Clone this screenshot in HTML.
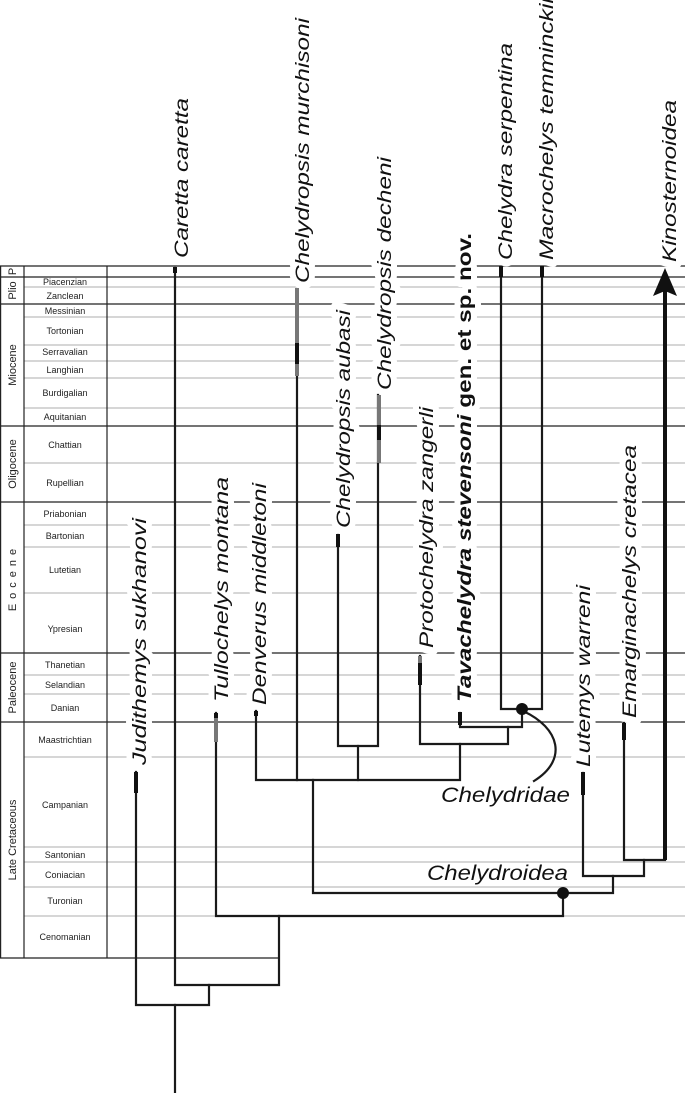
<!DOCTYPE html>
<html><head><meta charset="utf-8"><style>
html,body{margin:0;padding:0;background:#fff}
svg{display:block}
.st{font-family:"Liberation Sans",sans-serif;font-size:9px;fill:#222;text-anchor:middle}
.ep{font-family:"Liberation Sans",sans-serif;font-size:11px;fill:#222;text-anchor:middle}
.lb{font-family:"Liberation Sans",sans-serif;font-size:19px;font-style:italic;fill:#111;stroke:#fff;stroke-width:12px;paint-order:stroke;stroke-linejoin:round}
.cl{font-family:"Liberation Sans",sans-serif;font-size:21px;font-style:italic;fill:#111}
</style></head><body>
<svg width="685" height="1093" viewBox="0 0 685 1093" xmlns="http://www.w3.org/2000/svg">
<!-- gray stage lines -->
<g stroke="#c8c8c8" stroke-width="1.5">
<line x1="24" y1="287" x2="685" y2="287"/>
<line x1="24" y1="317" x2="685" y2="317"/>
<line x1="24" y1="345" x2="685" y2="345"/>
<line x1="24" y1="361" x2="685" y2="361"/>
<line x1="24" y1="378" x2="685" y2="378"/>
<line x1="24" y1="408" x2="685" y2="408"/>
<line x1="24" y1="463" x2="685" y2="463"/>
<line x1="24" y1="525" x2="685" y2="525"/>
<line x1="24" y1="547" x2="685" y2="547"/>
<line x1="24" y1="593" x2="685" y2="593"/>
<line x1="24" y1="675" x2="685" y2="675"/>
<line x1="24" y1="694" x2="685" y2="694"/>
<line x1="24" y1="757" x2="685" y2="757"/>
<line x1="24" y1="847" x2="685" y2="847"/>
<line x1="24" y1="862" x2="685" y2="862"/>
<line x1="24" y1="887" x2="685" y2="887"/>
<line x1="24" y1="916" x2="685" y2="916"/>
</g>
<!-- black epoch lines -->
<g stroke="#222" stroke-width="1.2">
<line x1="0" y1="266" x2="685" y2="266"/>
<line x1="0" y1="277" x2="685" y2="277"/>
<line x1="0" y1="304" x2="685" y2="304"/>
<line x1="0" y1="426" x2="685" y2="426"/>
<line x1="0" y1="502" x2="685" y2="502"/>
<line x1="0" y1="653" x2="685" y2="653"/>
<line x1="0" y1="722" x2="685" y2="722"/>
<line x1="0" y1="958" x2="280" y2="958"/>
<line x1="0.6" y1="266" x2="0.6" y2="958"/>
<line x1="24" y1="266" x2="24" y2="958"/>
<line x1="107" y1="266" x2="107" y2="958"/>
</g>
<!-- epoch labels -->
<g class="ep">
<text transform="translate(16,271.5) rotate(-90)">P</text>
<text transform="translate(16,290.5) rotate(-90)">Plio</text>
<text transform="translate(16,365) rotate(-90)">Miocene</text>
<text transform="translate(16,464) rotate(-90)">Oligocene</text>
<text transform="translate(16,577.5) rotate(-90)" letter-spacing="5">Eocene</text>
<text transform="translate(16,687.5) rotate(-90)">Paleocene</text>
<text transform="translate(16,840) rotate(-90)">Late Cretaceous</text>
</g>
<!-- stage labels -->
<g class="st">
<text x="65" y="285">Piacenzian</text>
<text x="65" y="299">Zanclean</text>
<text x="65" y="314">Messinian</text>
<text x="65" y="334">Tortonian</text>
<text x="65" y="355">Serravalian</text>
<text x="65" y="373">Langhian</text>
<text x="65" y="396">Burdigalian</text>
<text x="65" y="420">Aquitanian</text>
<text x="65" y="448">Chattian</text>
<text x="65" y="486">Rupellian</text>
<text x="65" y="517">Priabonian</text>
<text x="65" y="539">Bartonian</text>
<text x="65" y="573">Lutetian</text>
<text x="65" y="632">Ypresian</text>
<text x="65" y="668">Thanetian</text>
<text x="65" y="688">Selandian</text>
<text x="65" y="711">Danian</text>
<text x="65" y="743">Maastrichtian</text>
<text x="65" y="808">Campanian</text>
<text x="65" y="858">Santonian</text>
<text x="65" y="878">Coniacian</text>
<text x="65" y="904">Turonian</text>
<text x="65" y="940">Cenomanian</text>
</g>
<!-- taxon labels -->
<g class="lb">
<text transform="translate(146,765) rotate(-90)" textLength="247" lengthAdjust="spacingAndGlyphs">Judithemys sukhanovi</text>
<text transform="translate(188,258) rotate(-90)" textLength="160" lengthAdjust="spacingAndGlyphs">Caretta caretta</text>
<text transform="translate(228,702) rotate(-90)" textLength="225" lengthAdjust="spacingAndGlyphs">Tullochelys montana</text>
<text transform="translate(266,705) rotate(-90)" textLength="222" lengthAdjust="spacingAndGlyphs">Denverus middletoni</text>
<text transform="translate(309,283) rotate(-90)" textLength="265" lengthAdjust="spacingAndGlyphs">Chelydropsis murchisoni</text>
<text transform="translate(350,528) rotate(-90)" textLength="218" lengthAdjust="spacingAndGlyphs">Chelydropsis aubasi</text>
<text transform="translate(391,390) rotate(-90)" textLength="233" lengthAdjust="spacingAndGlyphs">Chelydropsis decheni</text>
<text transform="translate(433,648) rotate(-90)" textLength="241" lengthAdjust="spacingAndGlyphs">Protochelydra zangerli</text>
<text transform="translate(471,702) rotate(-90)" textLength="469" lengthAdjust="spacingAndGlyphs" font-weight="bold">Tavachelydra stevensoni <tspan font-style="normal">gen. et sp. nov.</tspan></text>
<text transform="translate(512,260) rotate(-90)" textLength="217" lengthAdjust="spacingAndGlyphs">Chelydra serpentina</text>
<text transform="translate(553,260) rotate(-90)" textLength="262" lengthAdjust="spacingAndGlyphs">Macrochelys temminckii</text>
<text transform="translate(590,767) rotate(-90)" textLength="182" lengthAdjust="spacingAndGlyphs">Lutemys warreni</text>
<text transform="translate(636,718) rotate(-90)" textLength="273" lengthAdjust="spacingAndGlyphs">Emarginachelys cretacea</text>
<text transform="translate(676,262) rotate(-90)" textLength="162" lengthAdjust="spacingAndGlyphs">Kinosternoidea</text>
</g>
<!-- tree -->
<g stroke="#1a1a1a" stroke-width="2.2" fill="none" stroke-linecap="square">
<polyline points="175,1093 175,1005"/>
<polyline points="136,772 136,1005 209,1005 209,985"/>
<polyline points="175,268 175,985 279,985 279,916"/>
<polyline points="216,713 216,916 563,916 563,893"/>
<polyline points="313,780 313,893 613,893 613,876"/>
<polyline points="256,711 256,780 460,780 460,744"/>
<polyline points="297,290 297,780"/>
<polyline points="358,780 358,746"/>
<polyline points="338,535 338,746 378,746 378,395"/>
<polyline points="420,656 420,744 508,744 508,727"/>
<polyline points="460,713 460,727 522,727 522,709"/>
<polyline points="501,268 501,709 542,709 542,268"/>
<polyline points="583,773 583,876 644,876 644,860"/>
<polyline points="624,723 624,860 665,860"/>
<path d="M523,711 C560,728 568,760 534,781"/>
</g>
<line x1="665" y1="860" x2="665" y2="290" stroke="#111" stroke-width="4"/>
<polygon points="665,268 653,296 665,291 677,296" fill="#111"/>
<!-- ticks / ranges -->
<g stroke-linecap="butt">
<line x1="175" y1="267" x2="175" y2="273" stroke="#111" stroke-width="4"/>
<line x1="501" y1="266" x2="501" y2="277" stroke="#111" stroke-width="4"/>
<line x1="542" y1="266" x2="542" y2="277" stroke="#111" stroke-width="4"/>
<line x1="136" y1="772" x2="136" y2="793" stroke="#111" stroke-width="4"/>
<line x1="216" y1="718" x2="216" y2="742" stroke="#777" stroke-width="4"/>
<line x1="216" y1="713" x2="216" y2="718" stroke="#111" stroke-width="4"/>
<line x1="256" y1="711" x2="256" y2="716" stroke="#111" stroke-width="4"/>
<line x1="297" y1="288" x2="297" y2="376" stroke="#777" stroke-width="4"/>
<line x1="297" y1="343" x2="297" y2="364" stroke="#111" stroke-width="4"/>
<line x1="338" y1="534" x2="338" y2="547" stroke="#111" stroke-width="4"/>
<line x1="379" y1="395" x2="379" y2="463" stroke="#777" stroke-width="4"/>
<line x1="379" y1="425" x2="379" y2="440" stroke="#111" stroke-width="4"/>
<line x1="420" y1="656" x2="420" y2="663" stroke="#777" stroke-width="4"/>
<line x1="420" y1="663" x2="420" y2="685" stroke="#111" stroke-width="4"/>
<line x1="460" y1="712" x2="460" y2="725" stroke="#111" stroke-width="4"/>
<line x1="583" y1="772" x2="583" y2="795" stroke="#111" stroke-width="4"/>
<line x1="624" y1="723" x2="624" y2="740" stroke="#111" stroke-width="4"/>
</g>
<circle cx="522" cy="709" r="6" fill="#111"/>
<circle cx="563" cy="893" r="6" fill="#111"/>
<text class="cl" x="441" y="802" textLength="129" lengthAdjust="spacingAndGlyphs">Chelydridae</text>
<text class="cl" x="427" y="880" textLength="141" lengthAdjust="spacingAndGlyphs">Chelydroidea</text>
</svg>
</body></html>
